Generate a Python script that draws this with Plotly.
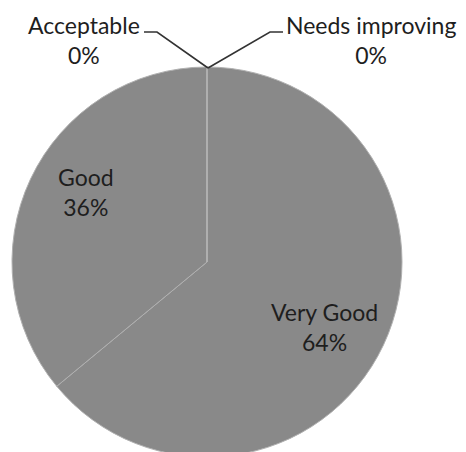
import plotly.graph_objects as go

categories = ["Very Good", "Good", "Acceptable", "Needs improving"]
values = [64, 36, 0, 0]

W, H = 466, 452
OFF = 8  # page body margin in the browser

def px(x):
    return (x - OFF) / W

def py(y):
    return 1 - (y - OFF) / H

cx, cy, r = 207, 262, 195  # pie centre / radius (page pixels)

total = sum(values)
pct = [f"{round(100 * v / total)}%" for v in values]

fig = go.Figure(go.Pie(
    labels=categories,
    values=values,
    sort=False,
    direction="clockwise",
    rotation=0,
    marker=dict(colors=["#898989"] * 4, line=dict(color="#b0b0b0", width=1)),
    textinfo="none",
    showlegend=False,
    hoverinfo="label+percent",
    domain=dict(x=[px(cx - r), px(cx + r)], y=[py(cy + r), py(cy - r)]),
))

# label placement (page pixels) for each category, in category order
label_pos = [(324, 327), (86, 192), (84, 40), (371, 40)]
for cat, p, (lx, ly) in zip(categories, pct, label_pos):
    fig.add_annotation(
        x=px(lx), y=py(ly), xref="paper", yref="paper",
        text=f"{cat}<br>{p}", showarrow=False,
        xanchor="center", yanchor="middle", align="center",
        font=dict(family="Lato", size=23, color="#1e1e1e"),
    )

# leader lines for the zero-valued slices
def path(points):
    return "M " + " L ".join(f"{px(x)},{py(y)}" for x, y in points)

line_style = dict(color="#333333", width=1.6)
fig.add_shape(type="path", xref="paper", yref="paper",
              path=path([(144, 32), (157, 32), (208, 68)]), line=line_style)
fig.add_shape(type="path", xref="paper", yref="paper",
              path=path([(283, 32), (270, 32), (208, 68)]), line=line_style)

fig.update_layout(
    width=W, height=H,
    margin=dict(l=0, r=0, t=0, b=0),
    paper_bgcolor="white",
    plot_bgcolor="white",
)

fig.write_html("out.html")
